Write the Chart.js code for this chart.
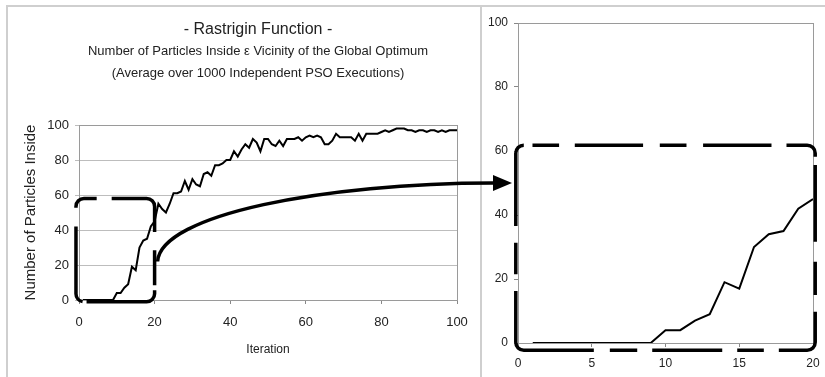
<!DOCTYPE html>
<html>
<head>
<meta charset="utf-8">
<script src="https://cdn.jsdelivr.net/npm/chart.js@4.4.1/dist/chart.umd.min.js"></script>
<style>
body { margin:0; background:#fff; width:825px; height:377px; overflow:hidden; position:relative; }
#panel_left { position:absolute; left:6px; top:5px; width:476px; height:400px; border:2px solid #cfcfcf; box-sizing:border-box; }
#panel_right { position:absolute; left:480px; top:5px; width:360px; height:400px; border-top:2px solid #cfcfcf; border-left:2px solid #cfcfcf; box-sizing:border-box; }
canvas { position:absolute; top:0; }
#left_chart { left:0; }
#right_chart { left:482px; }
#arrow { left:0; pointer-events:none; }
</style>
</head>
<body>
<div id="panel_left"></div>
<div id="panel_right"></div>
<canvas id="left_chart" width="482" height="377"></canvas>
<canvas id="right_chart" width="343" height="377"></canvas>
<canvas id="arrow" width="825" height="377"></canvas>
<script>
// data
let iterations = [1,2,3,4,5,6,7,8,9,10,11,12,13,14,15,16,17,18,19,20,
  21,22,23,24,25,26,27,28,29,30,31,32,33,34,35,36,37,38,39,40,
  41,42,43,44,45,46,47,48,49,50,51,52,53,54,55,56,57,58,59,60,
  61,62,63,64,65,66,67,68,69,70,71,72,73,74,75,76,77,78,79,80,
  81,82,83,84,85,86,87,88,89,90,91,92,93,94,95,96,97,98,99,100];
let particles = [0,0,0,0,0,0,0,0,0,4,4,7,9,19,17,30,34,35,42,45,
  55,52,50,55,61,61,62,68,63,69,66,65,72,73,71,77,77,78,80,80,
  85,82,86,89,87,92,90,85,92,92,89,88,91,88,92,92,92,93,91,93,
  94,93,94,93,89,89,91,95,93,93,93,93,91,95,91,95,95,95,95,96,
  97,96,97,98,98,98,97,97,96,97,97,96,97,97,96,97,96,97,97,97];
let mainTicks = [0, 20, 40, 60, 80, 100];
let zoomTicks = [0, 5, 10, 15, 20];

// zoomed part = first 20 iterations
let zoomIters = iterations.slice(0, 20);
let zoomParticles = particles.slice(0, 20);

function points(xs, ys) {
  return xs.map(function(x, i){ return {x: x, y: ys[i]}; });
}

Chart.defaults.font.family = "'Liberation Sans', Arial, sans-serif";
Chart.defaults.font.size = 12;
Chart.defaults.color = '#222';

// grey frame round the plot area
let frame = {
  id: 'frame',
  afterDraw(chart) {
    let a = chart.chartArea, ctx = chart.ctx;
    ctx.save();
    ctx.strokeStyle = '#9a9a9a';
    ctx.lineWidth = 1;
    ctx.strokeRect(a.left + 0.5, a.top + 0.5, a.right - a.left, a.bottom - a.top);
    ctx.restore();
  }
};

// headings of the left chart
let headings = {
  id: 'headings',
  afterDraw(chart) {
    let a = chart.chartArea, ctx = chart.ctx;
    let cx = (a.left + a.right) / 2 - 10;
    ctx.save();
    ctx.fillStyle = '#222';
    ctx.textAlign = 'center';
    ctx.textBaseline = 'middle';
    ctx.font = "16px 'Liberation Sans', Arial, sans-serif";
    ctx.fillText('- Rastrigin Function -', cx, 30);
    ctx.font = "13px 'Liberation Sans', Arial, sans-serif";
    ctx.fillText('Number of Particles Inside \u03b5 Vicinity of the Global Optimum', cx, 51);
    ctx.fillText('(Average over 1000 Independent PSO Executions)', cx, 73);
    ctx.restore();
  }
};

// dashed rounded box, corners given in data units
function bracket(box, dashes) {
  return {
    id: 'bracket',
    afterDraw(chart) {
      let ctx = chart.ctx, sx = chart.scales.x, sy = chart.scales.y;
      let l = sx.getPixelForValue(box.x0), r = sx.getPixelForValue(box.x1);
      let t = sy.getPixelForValue(box.y1), b = sy.getPixelForValue(box.y0);
      let rad = 8;
      ctx.save();
      ctx.strokeStyle = '#000';
      ctx.lineWidth = 3.5;
      ctx.lineCap = 'butt';
      ctx.setLineDash(dashes);
      ctx.beginPath();
      ctx.moveTo(l + rad, t);
      ctx.lineTo(r - rad, t);
      ctx.arcTo(r, t, r, t + rad, rad);
      ctx.lineTo(r, b - rad);
      ctx.arcTo(r, b, r - rad, b, rad);
      ctx.lineTo(l + rad, b);
      ctx.arcTo(l, b, l, b - rad, rad);
      ctx.lineTo(l, t + rad);
      ctx.arcTo(l, t, l + rad, t, rad);
      ctx.stroke();
      ctx.restore();
    }
  };
}

let leftBox = {x0: -0.8, x1: 20, y0: -1, y1: 58};
let rightBox = {x0: -0.15, x1: 20.15, y0: -2.3, y1: 61.8};

let leftChart = new Chart(document.getElementById("left_chart"), {
  type: 'line',
  data: {
    datasets: [{
      data: points(iterations, particles),
      borderColor: '#000',
      borderWidth: 2,
      pointRadius: 0,
      tension: 0
    }]
  },
  options: {
    responsive: false,
    animation: false,
    layout: { padding: { left: 18, right: 25, top: 125, bottom: 16 } },
    plugins: { legend: { display: false }, tooltip: { enabled: false } },
    scales: {
      x: {
        type: 'linear', min: 0, max: 100,
        afterBuildTicks: function(s){ s.ticks = mainTicks.map(function(v){ return {value: v}; }); },
        ticks: { padding: 11, font: { size: 13 } },
        grid: { drawOnChartArea: false, tickLength: 4, color: '#888' },
        border: { color: '#888' },
        title: { display: true, text: 'Iteration', padding: { top: 4, bottom: 4 } },
        afterFit: function(s){ s.height = 61; }
      },
      y: {
        min: 0, max: 100,
        ticks: { stepSize: 20, padding: 6, font: { size: 13 } },
        grid: { color: '#bdbdbd', tickLength: 4 },
        border: { color: '#888' },
        title: { display: true, text: 'Number of Particles Inside', font: { size: 15 }, padding: { top: 4, bottom: 4 } },
        afterFit: function(s){ s.width = 61; }
      }
    }
  },
  plugins: [frame, headings, bracket(leftBox, [12.7, 15, 72.8, 18.3, 35, 5, 76.1, 4, 78.3, 18.7, 30])]
});

let rightChart = new Chart(document.getElementById("right_chart"), {
  type: 'line',
  data: {
    datasets: [{
      data: points(zoomIters, zoomParticles),
      borderColor: '#000',
      borderWidth: 2,
      pointRadius: 0,
      tension: 0
    }]
  },
  options: {
    responsive: false,
    animation: false,
    layout: { padding: { left: 0, right: 12, top: 23, bottom: 0 } },
    plugins: { legend: { display: false }, tooltip: { enabled: false } },
    scales: {
      x: {
        type: 'linear', min: 0, max: 20,
        afterBuildTicks: function(s){ s.ticks = zoomTicks.map(function(v){ return {value: v}; }); },
        ticks: { padding: 5, font: { lineHeight: 1.9 } },
        grid: { drawOnChartArea: false, tickLength: 4, color: '#888' },
        border: { color: '#888' },
        afterFit: function(s){ s.height = 34; }
      },
      y: {
        min: 0, max: 100,
        ticks: { stepSize: 20, padding: 6 },
        grid: { drawOnChartArea: false, tickLength: 4, color: '#888' },
        border: { color: '#888' },
        afterFit: function(s){ s.width = 36; }
      }
    }
  },
  plugins: [frame, bracket(rightBox, [0, 8.7, 26.6, 15.7, 68.3, 16.7, 26.7, 16.6, 68.4, 15, 36.6, 8.3, 76.7, 20, 33.3, 16.7, 71.6, 15, 26.6, 15, 70, 15, 27.4, 16, 133.9, 16.7, 31.6, 16.7, 90])]
});

//arrow from the small box to the zoomed chart
let ov = document.getElementById("arrow").getContext('2d');
let rightOffset = 482;
let sx = leftChart.scales.x.getPixelForValue(leftBox.x1) + 3;
let sy = leftChart.scales.y.getPixelForValue(22);
let tipX = rightOffset + rightChart.chartArea.left - 6;
let tipY = rightChart.scales.y.getPixelForValue(50);
let ex = tipX - 19;
ov.strokeStyle = '#000';
ov.fillStyle = '#000';
ov.lineWidth = 3.5;
ov.beginPath();
ov.moveTo(sx, sy);
ov.bezierCurveTo(sx + 3, sy - 47, (sx + ex) / 2, tipY, ex, tipY);
ov.stroke();
ov.beginPath();
ov.moveTo(tipX, tipY);
ov.lineTo(ex, tipY - 8);
ov.lineTo(ex, tipY + 8);
ov.closePath();
ov.fill();
</script>
</body>
</html>
